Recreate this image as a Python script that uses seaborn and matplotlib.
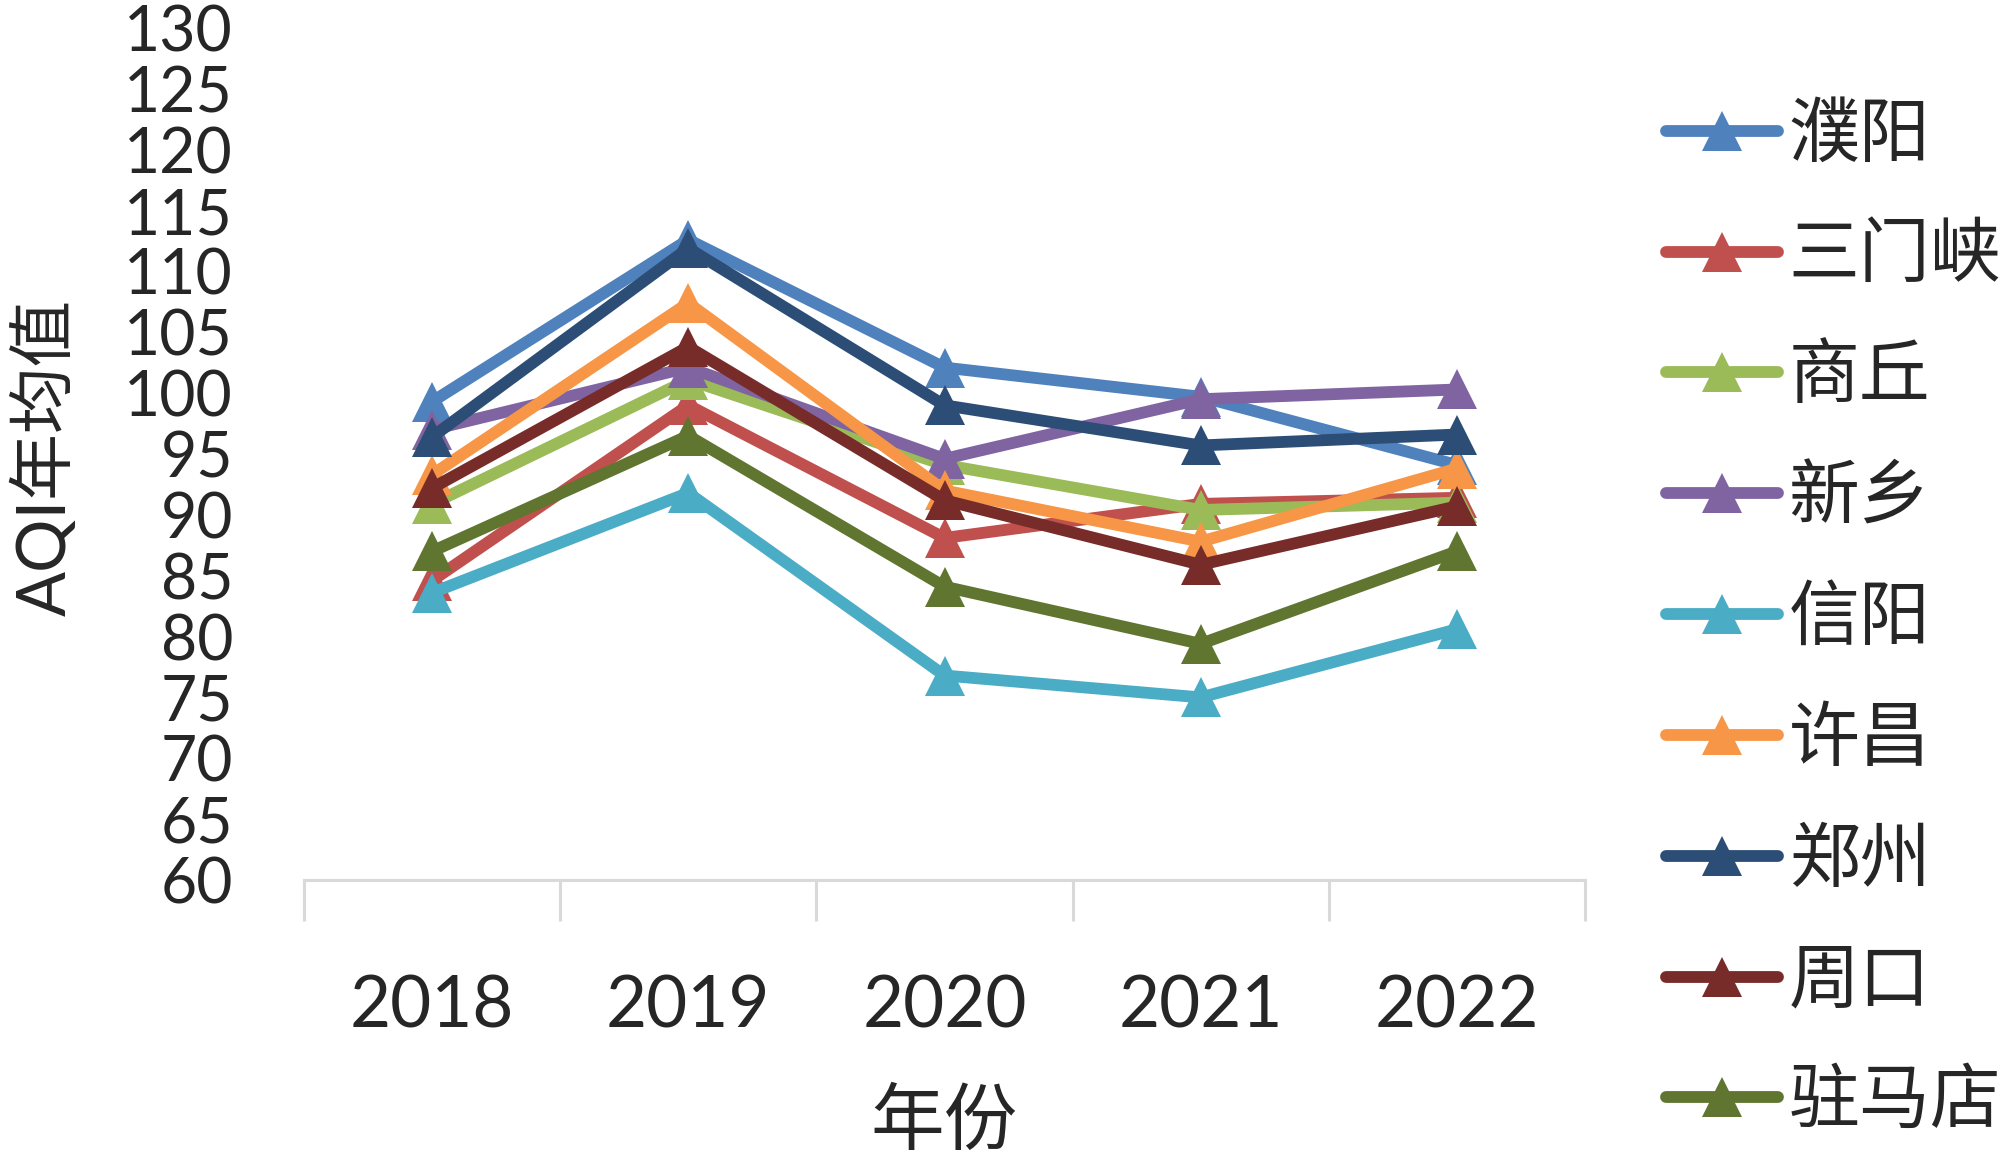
import numpy as np
import pandas as pd
import matplotlib
matplotlib.use("Agg")
import matplotlib.pyplot as plt
from matplotlib.ticker import FixedLocator
import seaborn as sns

# Annual mean AQI by city, 2018-2022
years = ["2018", "2019", "2020", "2021", "2022"]
cities = ["濮阳", "三门峡", "商丘", "新乡", "信阳", "许昌", "郑州", "周口", "驻马店"]

puyang      = [99.3, 112.6, 102.1, 99.7, 94.1]
sanmenxia   = [84.6, 99.0, 88.1, 90.9, 91.4]
shangqiu    = [90.9, 101.1, 94.1, 90.4, 91.0]
xinxiang    = [97.0, 102.1, 94.6, 99.5, 100.3]
xinyang     = [83.6, 91.8, 76.8, 75.0, 80.6]
xuchang     = [93.3, 107.4, 92.0, 87.8, 93.8]
zhengzhou   = [96.4, 111.9, 99.0, 95.7, 96.6]
zhoukou     = [92.2, 103.8, 91.2, 85.9, 90.7]
zhumadian   = [87.0, 96.5, 84.1, 79.4, 87.0]

series = [puyang, sanmenxia, shangqiu, xinxiang, xinyang,
          xuchang, zhengzhou, zhoukou, zhumadian]
colors = ["#4F81BD", "#C0504D", "#9BBB59", "#8064A2", "#4BACC6",
          "#F79646", "#2C4D75", "#772C2A", "#5F7530"]

# long-form table for seaborn
rows = []
for city, vals in zip(cities, series):
    for i, v in enumerate(vals):
        rows.append({"城市": city, "x": i, "AQI": v})
df = pd.DataFrame(rows)

sns.set_theme(style="white")
plt.rcParams["font.family"] = ["Lato", "Noto Sans CJK SC", "DejaVu Sans"]
cjk = ["Noto Sans CJK SC", "DejaVu Sans"]

fig = plt.figure(figsize=(20, 11.66), dpi=100)
ax = fig.add_axes([0.152, 0.2453, 0.6405, 0.7307])

sns.lineplot(
    data=df, x="x", y="AQI", hue="城市", hue_order=cities,
    palette=colors, marker="^", markersize=29, markeredgewidth=0,
    linewidth=8.5, dashes=False, sort=False, ax=ax,
)

# y axis: 60-130 step 5, no line, no ticks
ax.set_ylim(60, 130)
ax.set_yticks(np.arange(60, 131, 5))
ax.tick_params(axis="y", length=0, pad=51, labelsize=45)

# x axis: categories centred, tick marks between categories
ax.set_xlim(-0.5, len(years) - 0.5)
ax.set_xticks(range(len(years)))
ax.set_xticklabels(years)
ax.xaxis.set_minor_locator(FixedLocator(np.arange(-0.5, len(years), 1.0)))
ax.tick_params(axis="x", which="major", length=0, pad=68, labelsize=51)
ax.tick_params(axis="x", which="minor", bottom=True, length=29.5,
               width=2.2, color="#D9D9D9")

for side in ["top", "right", "left"]:
    ax.spines[side].set_visible(False)
ax.spines["bottom"].set_color("#D9D9D9")
ax.spines["bottom"].set_linewidth(2.2)

ax.set_xlabel("")
ax.set_ylabel("")
fig.text(0.0225, 0.608, "AQI年均值", rotation=90, ha="center", va="center",
         fontsize=48, family=["Lato", "Noto Sans CJK SC", "DejaVu Sans"])
fig.text(0.472, 0.037, "年份", ha="center", va="center",
         fontsize=53, family=cjk)

handles, labels = ax.get_legend_handles_labels()
ax.get_legend().remove()
for h in handles:
    h.set_solid_capstyle("round")
fig.legend(
    handles, labels, loc="upper left", bbox_to_anchor=(0.833, 0.9154),
    frameon=False, prop={"family": cjk, "size": 51},
    handlelength=1.58, handletextpad=0.15, labelspacing=0.675,
    borderpad=0, borderaxespad=0,
)

fig.savefig("out.png", dpi=100)
